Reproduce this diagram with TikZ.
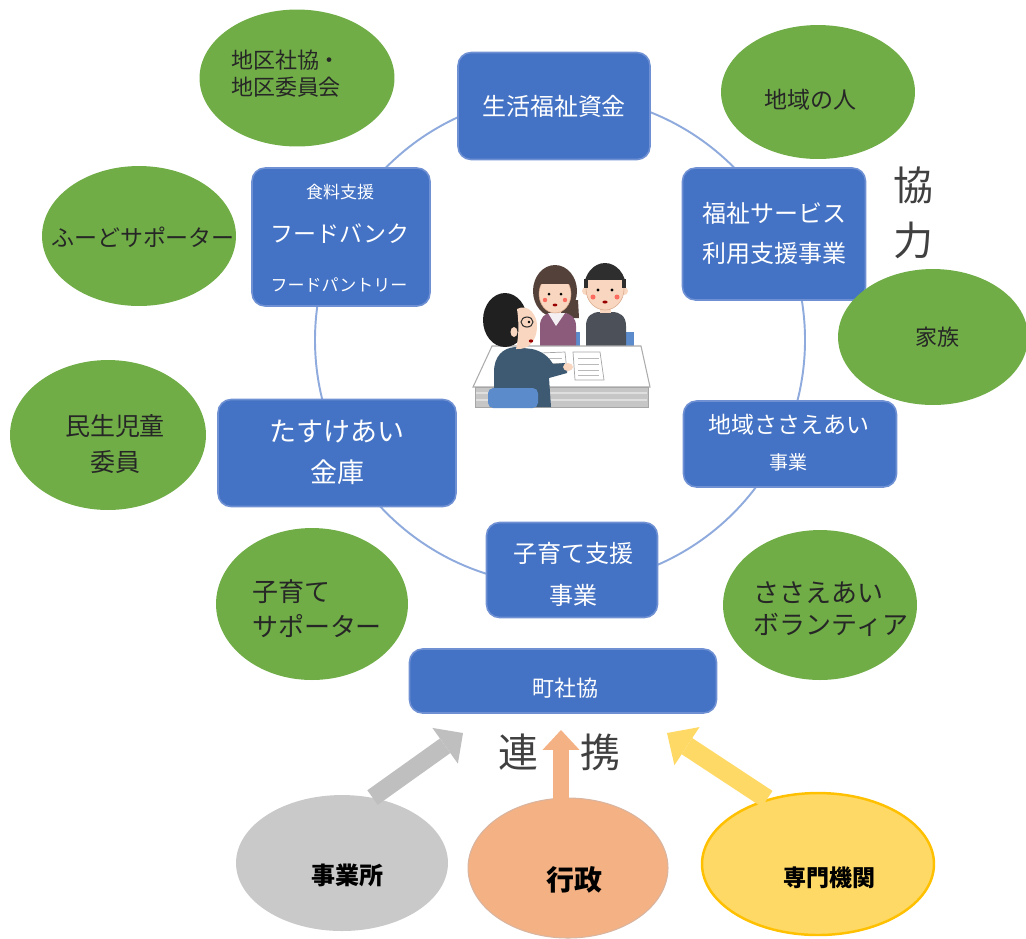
\documentclass[tikz,border=0pt]{standalone}
\usepackage{fontspec}
\newfontfamily\jp{Noto Sans CJK JP}
\usetikzlibrary{shapes.geometric,arrows.meta}
% font size given in drawing units (1 unit = 0.02cm = 0.569pt)
\newcommand\pxf[2]{\fontsize{\fpeval{#1*0.569}pt}{\fpeval{#2*0.569}pt}\selectfont}

\definecolor{boxblue}{HTML}{4472C4}
\definecolor{boxrim}{HTML}{6F91D3}
\definecolor{ringblue}{HTML}{8FAADC}
\definecolor{leaf}{HTML}{70AD47}
\definecolor{stone}{HTML}{C9C9C9}
\definecolor{stonearrow}{HTML}{BFBFBF}
\definecolor{peach}{HTML}{F4B183}
\definecolor{peachrim}{HTML}{D9B5A0}
\definecolor{gold}{HTML}{FFD966}
\definecolor{goldrim}{HTML}{FFC000}
\definecolor{skin}{HTML}{F8D6BF}
\definecolor{skinline}{HTML}{D9A98C}
\definecolor{hairdark}{HTML}{2E2E2E}
\definecolor{hairbrown}{HTML}{54413A}
\definecolor{mauve}{HTML}{8C5B7B}
\definecolor{sweater}{HTML}{4B5059}
\definecolor{suit}{HTML}{3E5A72}
\definecolor{chair}{HTML}{5B8BCB}

\begin{document}
\begin{tikzpicture}[x=0.02cm,y=-0.02cm,
  ring/.style={draw=ringblue,line width=1.1pt},
  bluebox/.style={rectangle,rounded corners=0.26cm,fill=boxblue,draw=boxrim,line width=0.9pt,inner sep=0pt},
  leafell/.style={ellipse,fill=leaf,inner sep=0pt},
  onblue/.style={text=white,align=center,inner sep=0pt},
  ongreen/.style={text=black!85,inner sep=0pt},
  bigword/.style={text=black!75,inner sep=0pt,font={\jp\pxf{40}{48}}},
  boldword/.style={text=black,inner sep=0pt},
  paper/.style={fill=white,draw=gray!70,line width=0.4pt},
]
\useasboundingbox (0,0) rectangle (1026,938);

% the cycle ring behind the service boxes
\draw[ring] (560,340) circle[radius=245];

% ---- service boxes ----
\node[bluebox,minimum width=3.84cm,minimum height=2.14cm] (shikin) at (554,106) {};
\node[bluebox,minimum width=3.56cm,minimum height=2.76cm] (food) at (341,237) {};
\node[bluebox,minimum width=3.66cm,minimum height=2.64cm] (riyou) at (774,234) {};
\node[bluebox,minimum width=4.76cm,minimum height=2.14cm] (kinko) at (337,453) {};
\node[bluebox,minimum width=4.26cm,minimum height=1.72cm] (sasae) at (790,444) {};
\node[bluebox,minimum width=3.42cm,minimum height=1.90cm] (kosodate) at (572,570) {};
\node[bluebox,minimum width=6.14cm,minimum height=1.28cm] (machi) at (563,681) {};

\node[onblue,font={\jp\pxf{24}{30}}] at (shikin) {生活福祉資金};
\node[onblue,font={\jp\pxf{17}{20}}] at (340,192) {食料支援};
\node[onblue,font={\jp\pxf{23}{28}}] at (340,234) {フードバンク};
\node[onblue,font={\jp\pxf{17}{20}}] at (339,285) {フードパントリー};
\node[onblue,font={\jp\pxf{24}{40}}] at (774,233) {福祉サービス\\利用支援事業};
\node[onblue,font={\jp\pxf{27}{41}}] at (337,452) {たすけあい\\金庫};
\node[onblue,font={\jp\pxf{23}{28}}] at (789,425) {地域ささえあい};
\node[onblue,font={\jp\pxf{19}{24}}] at (788,462) {事業};
\node[onblue,font={\jp\pxf{24}{42}}] at (573,574) {子育て支援\\事業};
\node[onblue,font={\jp\pxf{22}{28}}] at (565,688) {町社協};

% ---- supporters ----
\node[leafell,minimum width=3.90cm,minimum height=2.74cm] (chiku) at (297,78) {};
\node[leafell,minimum width=3.88cm,minimum height=2.68cm] (hito) at (818,92) {};
\node[leafell,minimum width=3.88cm,minimum height=2.80cm] (foodsup) at (139,236) {};
\node[leafell,minimum width=3.80cm,minimum height=2.72cm] (kazoku) at (933,337) {};
\node[leafell,minimum width=3.92cm,minimum height=3.00cm] (minsei) at (108,435) {};
\node[leafell,minimum width=3.84cm,minimum height=3.04cm] (kosup) at (312,604) {};
\node[leafell,minimum width=3.88cm,minimum height=3.00cm] (volun) at (820,605) {};

\node[ongreen,align=left,font={\jp\pxf{22}{27}}] at (286,74) {地区社協・\\地区委員会};
\node[ongreen,font={\jp\pxf{23}{28}}] at (810,100) {地域の人};
\node[ongreen,font={\jp\pxf{23}{28}}] at (143,237) {ふーどサポーター};
\node[ongreen,font={\jp\pxf{22}{28}}] at (937,337) {家族};
\node[ongreen,align=center,font={\jp\pxf{25}{36}}] at (115,444) {民生児童\\委員};
\node[ongreen,align=left,font={\jp\pxf{26}{35}}] at (317,609) {子育て\\サポーター};
\node[ongreen,align=left,font={\jp\pxf{26}{32}}] at (831,609) {ささえあい\\ボランティア};

% ---- partner organisations ----
\node[ellipse,fill=stone,inner sep=0pt,minimum width=4.24cm,minimum height=2.72cm] (jigyo) at (342,863) {};
\node[ellipse,fill=peach,draw=peachrim,line width=0.6pt,inner sep=0pt,minimum width=4.0cm,minimum height=2.8cm] (gyosei) at (568,868) {};
\node[ellipse,fill=gold,draw=goldrim,line width=1.4pt,inner sep=0pt,minimum width=4.64cm,minimum height=2.84cm] (senmon) at (818,864) {};

\node[boldword,font={\jp\bfseries\pxf{24}{30}}] at (347,875) {事業所};
\node[boldword,font={\jp\bfseries\pxf{28}{34}}] at (574,880) {行政};
\node[boldword,font={\jp\bfseries\pxf{23}{30}}] at (829,878) {専門機関};

% block arrows towards the council
\coordinate (grayhead) at (463,733);
\coordinate (peachtail) at (561,822);
\coordinate (peachhead) at (561,730);
\coordinate (goldhead) at (667,733);
\draw[stonearrow,line width=10.2pt,-{Triangle[width=25pt,length=12.5pt,line width=0pt]}] (jigyo.65) -- (grayhead);
\draw[peach,line width=9.6pt,-{Triangle[width=21pt,length=11.3pt,line width=0pt]}] (peachtail) -- (peachhead);
\draw[gold,line width=11pt,-{Triangle[width=26pt,length=13.6pt,line width=0pt]}] (senmon.128) -- (goldhead);

% side words
\node[bigword] (kyo) at (913,185) {協};
\node[bigword] (ryoku) at (913,240) {力};
\node[bigword] (ren) at (518,752) {連};
\node[bigword] (kei) at (600,752) {携};

% ---- consultation scene in the middle ----
% chair backs behind the two visitors
\fill[chair] (571,332) rectangle (580,346);
\fill[chair] (622,332) rectangle (634,346);
% man
\fill[sweater] (586,348) -- (586,326) .. controls (586,316) and (592,312) .. (600,312) -- (612,312) .. controls (620,312) and (626,316) .. (626,326) -- (626,348) -- cycle;
\fill[skin] (600,304) rectangle (611,313);
\fill[skin] (586,291) circle[radius=4];
\fill[skin] (624,291) circle[radius=4];
\filldraw[fill=skin,draw=skinline,line width=0.3pt] (605,289) ellipse[x radius=19,y radius=21];
\begin{scope}
  \clip (575,255) rectangle (640,279);
  \fill[hairdark] (605,288) ellipse[x radius=21,y radius=25];
\end{scope}
\fill[hairdark] (584,279) rectangle (588,288);
\fill[hairdark] (622,279) rectangle (626,288);
\fill[black] (598,290) circle[radius=1.6];
\fill[black] (612,290) circle[radius=1.6];
\fill[red!50!skin] (593,297) circle[radius=2.5];
\fill[red!50!skin] (617,297) circle[radius=2.5];
\fill[red!60!black] (605,302) ellipse[x radius=2.6,y radius=1.5];
% woman
\fill[hairbrown] (555,291) ellipse[x radius=22,y radius=26];
\fill[hairbrown] (568,300) -- (578,300) -- (579,318) -- (566,318) -- cycle;
\fill[mauve] (540,346) -- (540,326) .. controls (540,317) and (545,313) .. (552,313) -- (563,313) .. controls (571,313) and (576,318) .. (576,326) -- (576,346) -- cycle;
\fill[skin] (551,305) rectangle (561,315);
\fill[white!90!mauve] (548,313) -- (556,326) -- (565,313) -- cycle;
\filldraw[fill=skin,draw=skinline,line width=0.3pt] (555,294) ellipse[x radius=16,y radius=19];
\begin{scope}
  \clip (530,260) rectangle (580,283);
  \fill[hairbrown] (555,292) ellipse[x radius=20,y radius=25];
\end{scope}
\fill[black] (549,294) circle[radius=1.5];
\fill[black] (561,294) circle[radius=1.5];
\fill[red!50!skin] (545,300) circle[radius=2.2];
\fill[red!50!skin] (565,300) circle[radius=2.2];
\fill[red!60!black] (555,305) ellipse[x radius=2.4,y radius=1.4];
% desk
\filldraw[fill=white,draw=gray!65,line width=0.6pt] (492,346) -- (641,346) -- (650,387) -- (473,387) -- cycle;
\filldraw[fill=gray!45,draw=gray!70,line width=0.5pt] (475,387) rectangle (648,407);
\draw[gray!25,line width=1pt] (476,393) -- (647,393);
\draw[gray!25,line width=1pt] (476,400) -- (647,400);
% papers on the desk
\filldraw[paper] (540,353) -- (565,352) -- (567,372) -- (541,373) -- cycle;
\filldraw[paper] (573,352) -- (600,352) -- (604,380) -- (575,380) -- cycle;
\foreach \yy in {358,363,368}{\draw[gray!55,line width=0.4pt] (545,\yy) -- (562,\yy);}
\foreach \yy in {358,364,370,375}{\draw[gray!55,line width=0.4pt] (578,\yy) -- (599,\yy);}
% counsellor seen from behind
\fill[suit] (494,407) -- (494,372) .. controls (494,356) and (503,348) .. (515,347) -- (532,349) .. controls (542,351) and (549,357) .. (553,364) -- (565,363) -- (567,373) -- (549,378) -- (551,407) -- cycle;
\fill[skin] (568,367) ellipse[x radius=5,y radius=4];
\fill[hairdark!70!black] (505,320) ellipse[x radius=22,y radius=27];
\fill[skin] (517,309) .. controls (528,303) and (538,315) .. (537,328) .. controls (536,341) and (529,350) .. (516,349) .. controls (519,336) and (519,322) .. (517,309) -- cycle;
\draw[hairdark,line width=0.6pt] (527,322) ellipse[x radius=6,y radius=5];
\fill[black] (529,322) circle[radius=1.4];
\fill[red!60!black] (531,341) ellipse[x radius=2.2,y radius=1.6];
\fill[skin] (514,332) ellipse[x radius=3.5,y radius=5];
% counsellor's chair
\fill[chair,rounded corners=3pt] (488,388) rectangle (538,408);
\end{tikzpicture}
\end{document}
